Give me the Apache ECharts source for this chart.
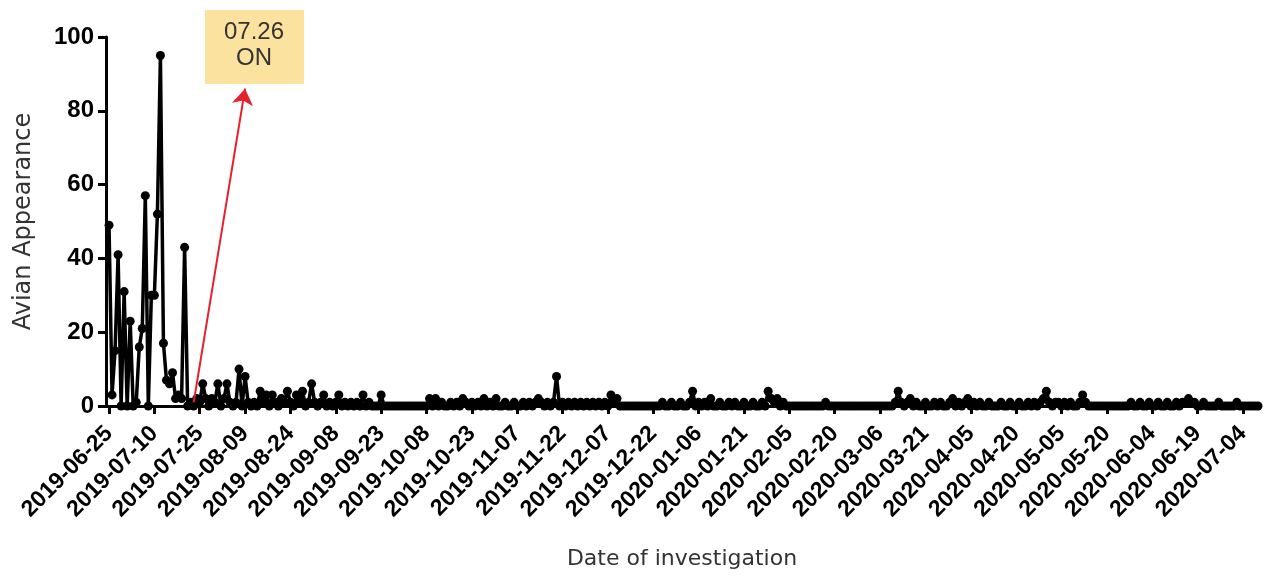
<!DOCTYPE html>
<html>
<head>
<meta charset="utf-8">
<script src="https://cdn.jsdelivr.net/npm/echarts@6/dist/echarts.min.js"></script>
<style>
  html, body { margin: 0; padding: 0; background: #fff; }
  #main { width: 1265px; height: 576px; }
</style>
</head>
<body>
<div id="main"></div>
<script>
// first survey day, one value per day after it
const startDate = '2019-06-25';

// avian appearance count per day (15 days a row)
const appearance = [
  49, 3, 15, 41, 0, 31, 0, 23, 0, 1, 16, 21, 57, 0, 30,
  30, 52, 95, 17, 7, 6, 9, 2, 3, 2, 43, 0, 1, 0, 2,
  1, 6, 2, 0, 2, 1, 6, 0, 2, 6, 1, 0, 1, 10, 0,
  8, 1, 0, 1, 0, 4, 1, 3, 0, 3, 1, 0, 2, 1, 4,
  1, 0, 3, 1, 4, 0, 1, 6, 1, 0, 1, 3, 0, 1, 0,
  1, 3, 0, 1, 0, 1, 0, 1, 0, 3, 0, 1, 0, 0, 0,
  3, 0, 0, 0, 0, 0, 0, 0, 0, 0, 0, 0, 0, 0, 0,
  0, 2, 0, 2, 0, 1, 0, 0, 1, 0, 1, 0, 2, 1, 0,
  1, 0, 1, 0, 2, 0, 1, 0, 2, 0, 0, 1, 0, 0, 1,
  0, 0, 1, 0, 1, 0, 1, 2, 1, 0, 1, 0, 1, 8, 0,
  1, 0, 1, 0, 1, 0, 1, 0, 1, 0, 1, 0, 1, 0, 1,
  0, 3, 1, 2, 0, 0, 0, 0, 0, 0, 0, 0, 0, 0, 0,
  0, 0, 0, 1, 0, 0, 1, 0, 0, 1, 0, 0, 1, 4, 0,
  1, 0, 1, 0, 2, 0, 0, 1, 0, 0, 1, 0, 1, 0, 0,
  1, 0, 0, 1, 0, 0, 1, 0, 4, 2, 1, 2, 0, 1, 0,
  0, 0, 0, 0, 0, 0, 0, 0, 0, 0, 0, 0, 1, 0, 0,
  0, 0, 0, 0, 0, 0, 0, 0, 0, 0, 0, 0, 0, 0, 0,
  0, 0, 0, 0, 0, 1, 4, 1, 0, 1, 2, 0, 1, 0, 0,
  1, 0, 0, 1, 0, 1, 0, 0, 1, 2, 0, 1, 0, 1, 2,
  0, 1, 0, 1, 0, 0, 1, 0, 0, 0, 1, 0, 0, 1, 0,
  0, 1, 0, 0, 1, 0, 1, 0, 1, 2, 4, 1, 0, 1, 1,
  0, 1, 0, 1, 0, 0, 1, 3, 1, 0, 0, 0, 0, 0, 0,
  0, 0, 0, 0, 0, 0, 0, 0, 1, 0, 0, 1, 0, 0, 1,
  0, 0, 1, 0, 0, 1, 0, 0, 1, 0, 1, 1, 2, 1, 1,
  0, 0, 1, 0, 0, 0, 0, 1, 0, 0, 0, 0, 0, 1, 0,
  0, 0, 0, 0, 0, 0
];

const yTicks = [0, 20, 40, 60, 80, 100];
const labelEvery = 15; // days between date labels
const noteLines = ['07.26', 'ON'];

// date categories, with one blank slot before the first day
function fmt(d) {
  const m = String(d.getUTCMonth() + 1).padStart(2, '0');
  const day = String(d.getUTCDate()).padStart(2, '0');
  return d.getUTCFullYear() + '-' + m + '-' + day;
}
let dates = [''];
let d0 = new Date(startDate + 'T00:00:00Z');
for (let i = 0; i < appearance.length; i++) {
  dates.push(fmt(new Date(d0.getTime() + i * 86400000)));
}
let seriesData = ['-'].concat(appearance);

let showTick = (idx) => idx > 0 && (idx - 1) % labelEvery === 0;

var myChart = echarts.init(document.getElementById('main'));

myChart.setOption({
  animation: false,
  grid: { left: 106, right: 7, top: 37, bottom: 170 },
  xAxis: {
    type: 'category',
    data: dates,
    boundaryGap: false,
    name: 'Date of investigation',
    nameLocation: 'middle',
    nameGap: 142,
    nameTextStyle: { fontFamily: 'DejaVu Sans', fontSize: 22, color: '#333' },
    axisLine: { lineStyle: { color: '#000', width: 3 } },
    axisTick: { show: true, interval: (idx) => showTick(idx), length: 8, lineStyle: { color: '#000', width: 3 } },
    axisLabel: {
      interval: (idx) => showTick(idx),
      rotate: 45,
      margin: 24,
      color: '#000',
      fontFamily: 'Liberation Sans',
      fontWeight: 'bold',
      fontSize: 23
    },
    splitLine: { show: false }
  },
  yAxis: {
    type: 'value',
    min: yTicks[0],
    max: yTicks[yTicks.length - 1],
    interval: 20,
    name: 'Avian Appearance',
    nameLocation: 'middle',
    nameGap: 70,
    nameTextStyle: { fontFamily: 'DejaVu Sans', fontSize: 24, color: '#333' },
    axisLine: { show: true, lineStyle: { color: '#000', width: 3 } },
    axisTick: { show: true, length: 8, lineStyle: { color: '#000', width: 3 } },
    axisLabel: {
      color: '#000',
      fontFamily: 'Liberation Sans',
      fontWeight: 'bold',
      fontSize: 24,
      margin: 12
    },
    splitLine: { show: false }
  },
  series: [{
    type: 'line',
    data: seriesData,
    showAllSymbol: true,
    symbol: 'circle',
    symbolSize: 9,
    lineStyle: { color: '#000', width: 3.5 },
    itemStyle: { color: '#000' },
    markLine: {
      silent: true,
      symbol: ['none', 'arrow'],
      symbolSize: 16,
      label: { show: false },
      lineStyle: { color: '#e5212b', width: 2, type: 'solid' },
      data: [[
        { coord: ['2019-07-23', 1] },
        { coord: ['2019-08-09', 86] }
      ]]
    }
  }],
  graphic: [{
    type: 'group',
    left: 205,
    top: 10,
    children: [
      { type: 'rect', shape: { x: 0, y: 0, width: 99, height: 74 }, style: { fill: '#fbe39f' } },
      {
        type: 'text',
        x: 49, y: 35,
        style: {
          text: noteLines.join('\n'),
          fontFamily: 'Liberation Sans',
          fontSize: 24,
          lineHeight: 26,
          fill: '#333',
          align: 'center',
          verticalAlign: 'middle'
        }
      }
    ]
  }]
});
</script>
</body>
</html>
